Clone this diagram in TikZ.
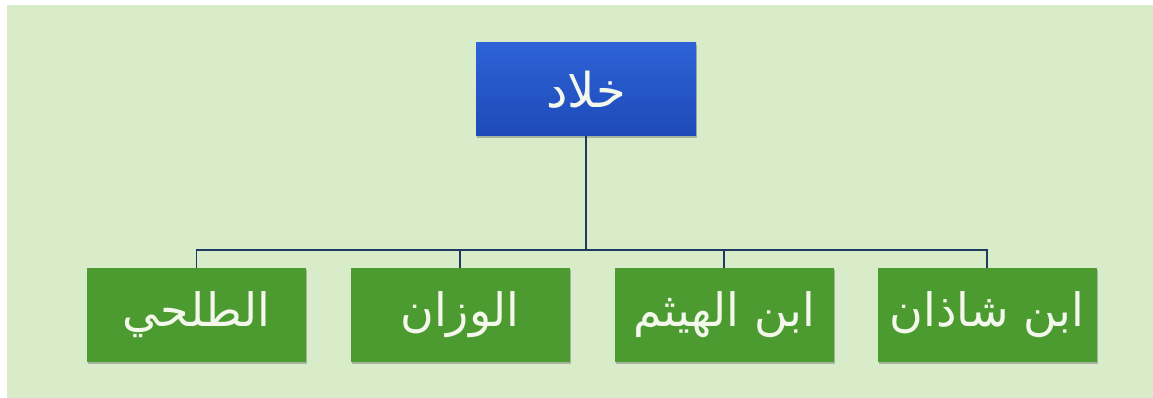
\documentclass[tikz,border=0pt]{standalone}
\usepackage{fontspec}
\newfontfamily\arabicfont[Script=Arabic]{DejaVu Sans}
\TeXXeTstate=1
\usetikzlibrary{shadows}
\definecolor{pagebg}{HTML}{D9ECC9}
\definecolor{headtop}{HTML}{2E62D6}
\definecolor{headbot}{HTML}{1D4AB8}
\definecolor{leafgreen}{HTML}{4C9B30}
\definecolor{linkblue}{HTML}{1F3A5F}
\definecolor{labelwhite}{HTML}{F4F8EC}
\tikzset{
  headbox/.style={rectangle, minimum width=220pt, minimum height=93pt,
    top color=headtop, bottom color=headbot, draw=none,
    drop shadow={shadow xshift=1pt, shadow yshift=-2pt, opacity=0.35, fill=black!70},
    text=labelwhite, font=\arabicfont\fontsize{48}{56}\selectfont, inner sep=0pt},
  leafbox/.style={rectangle, minimum width=219pt, minimum height=94pt,
    fill=leafgreen, draw=none,
    drop shadow={shadow xshift=1pt, shadow yshift=-2pt, opacity=0.35, fill=black!70},
    text=labelwhite, font=\arabicfont\fontsize{46}{54}\selectfont, inner sep=0pt},
  trunk/.style={draw=linkblue, line width=2pt},
  branch/.style={draw=linkblue, line width=1.3pt}
}
\begin{document}
\begin{tikzpicture}[x=1pt, y=1pt]
  % page and backdrop
  \useasboundingbox (0,0) rectangle (1153,398);
  \fill[white] (0,0) rectangle (1153,398);
  \fill[pagebg] (7,0) rectangle (1153,393);

  % head of the tree
  \node[headbox] (head) at (586,308.5) {\beginR خلاد\endR};

  % children
  \node[leafbox] (c1) at (196.5,83) {\beginR الطلحي\endR};
  \node[leafbox] (c2) at (460,83) {\beginR الوزان\endR};
  \node[leafbox] (c3) at (724,83) {\beginR ابن الهيثم\endR};
  \node[leafbox] (c4) at (987,83) {\beginR ابن شاذان\endR};

  % connectors
  \coordinate (bus) at (586,148);
  \draw[trunk] (head.south) -- (bus);
  \draw[branch] (c1.north) |- (bus);
  \draw[branch] (c2.north) |- (bus);
  \draw[branch] (c3.north) |- (bus);
  \draw[branch] (c4.north) |- (bus);
\end{tikzpicture}
\end{document}
